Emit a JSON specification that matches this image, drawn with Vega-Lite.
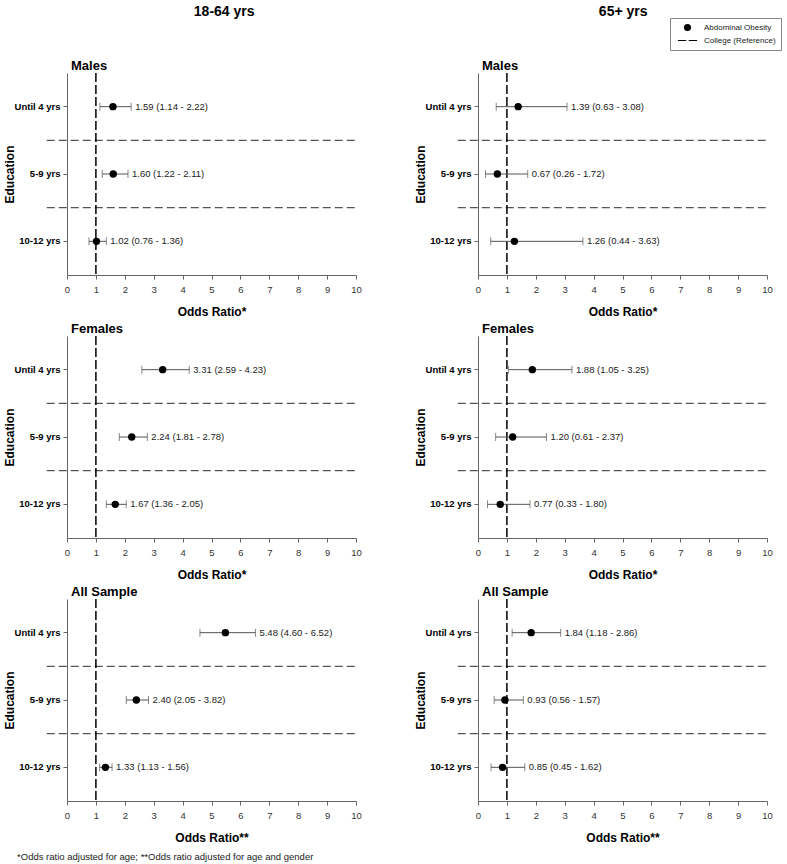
{
  "$schema": "https://vega.github.io/schema/vega-lite/v6.json",
  "padding": {"left": 3, "top": 5, "right": 4, "bottom": 4},
  "background": "white",
  "datasets": {
    "or": [
      {"age": "18-64 yrs", "group": "Males", "edu": "Until 4 yrs", "or": 1.59, "lo": 1.14, "hi": 2.22, "label": "1.59 (1.14 - 2.22)"},
      {"age": "18-64 yrs", "group": "Males", "edu": "5-9 yrs", "or": 1.60, "lo": 1.22, "hi": 2.11, "label": "1.60 (1.22 - 2.11)"},
      {"age": "18-64 yrs", "group": "Males", "edu": "10-12 yrs", "or": 1.02, "lo": 0.76, "hi": 1.36, "label": "1.02 (0.76 - 1.36)"},
      {"age": "18-64 yrs", "group": "Females", "edu": "Until 4 yrs", "or": 3.31, "lo": 2.59, "hi": 4.23, "label": "3.31 (2.59 - 4.23)"},
      {"age": "18-64 yrs", "group": "Females", "edu": "5-9 yrs", "or": 2.24, "lo": 1.81, "hi": 2.78, "label": "2.24 (1.81 - 2.78)"},
      {"age": "18-64 yrs", "group": "Females", "edu": "10-12 yrs", "or": 1.67, "lo": 1.36, "hi": 2.05, "label": "1.67 (1.36 - 2.05)"},
      {"age": "18-64 yrs", "group": "All Sample", "edu": "Until 4 yrs", "or": 5.48, "lo": 4.60, "hi": 6.52, "label": "5.48 (4.60 - 6.52)"},
      {"age": "18-64 yrs", "group": "All Sample", "edu": "5-9 yrs", "or": 2.40, "lo": 2.05, "hi": 2.82, "label": "2.40 (2.05 - 3.82)"},
      {"age": "18-64 yrs", "group": "All Sample", "edu": "10-12 yrs", "or": 1.33, "lo": 1.13, "hi": 1.56, "label": "1.33 (1.13 - 1.56)"},
      {"age": "65+ yrs", "group": "Males", "edu": "Until 4 yrs", "or": 1.39, "lo": 0.63, "hi": 3.08, "label": "1.39 (0.63 - 3.08)"},
      {"age": "65+ yrs", "group": "Males", "edu": "5-9 yrs", "or": 0.67, "lo": 0.26, "hi": 1.72, "label": "0.67 (0.26 - 1.72)"},
      {"age": "65+ yrs", "group": "Males", "edu": "10-12 yrs", "or": 1.26, "lo": 0.44, "hi": 3.63, "label": "1.26 (0.44 - 3.63)"},
      {"age": "65+ yrs", "group": "Females", "edu": "Until 4 yrs", "or": 1.88, "lo": 1.05, "hi": 3.25, "label": "1.88 (1.05 - 3.25)"},
      {"age": "65+ yrs", "group": "Females", "edu": "5-9 yrs", "or": 1.20, "lo": 0.61, "hi": 2.37, "label": "1.20 (0.61 - 2.37)"},
      {"age": "65+ yrs", "group": "Females", "edu": "10-12 yrs", "or": 0.77, "lo": 0.33, "hi": 1.80, "label": "0.77 (0.33 - 1.80)"},
      {"age": "65+ yrs", "group": "All Sample", "edu": "Until 4 yrs", "or": 1.84, "lo": 1.18, "hi": 2.86, "label": "1.84 (1.18 - 2.86)"},
      {"age": "65+ yrs", "group": "All Sample", "edu": "5-9 yrs", "or": 0.93, "lo": 0.56, "hi": 1.57, "label": "0.93 (0.56 - 1.57)"},
      {"age": "65+ yrs", "group": "All Sample", "edu": "10-12 yrs", "or": 0.85, "lo": 0.45, "hi": 1.62, "label": "0.85 (0.45 - 1.62)"}
    ]
  },
  "title": {"text": "*Odds ratio adjusted for age; **Odds ratio adjusted for age and gender", "orient": "bottom", "anchor": "start", "frame": "bounds", "fontSize": 9.5, "fontWeight": "normal", "color": "#222", "offset": 8, "dx": 14},
  "config": {
    "font": "Liberation Sans",
    "view": {"stroke": null},
    "title": {"fontSize": 13, "fontWeight": "bold", "anchor": "start", "frame": "group", "offset": -1, "dx": 4, "color": "black"},
    "axisX": {"values": [0,1,2,3,4,5,6,7,8,9,10], "tickSize": 4, "labelFontSize": 9.5, "labelColor": "#333", "domainColor": "#666", "tickColor": "#666", "grid": false, "titleFontSize": 12, "titleFontWeight": "bold", "titleColor": "black", "titlePadding": 13, "labelPadding": 5, "labelFlush": false},
    "axisY": {"labelFontWeight": "bold", "labelFontSize": 9.5, "labelColor": "black", "tickSize": 4, "labelPadding": 3, "titlePadding": -2, "titleFontSize": 12, "titleFontWeight": "bold", "titleColor": "black", "domainColor": "#666", "tickColor": "#666", "grid": false}
  },
  "resolve": {"scale": {"shape": "shared"}, "legend": {"shape": "shared"}},
  "spacing": 52,
  "hconcat": [
    {
      "title": {"text": "18-64 yrs", "fontSize": 14, "anchor": "middle", "frame": "bounds", "offset": 41, "dx": 42},
      "spacing": 5,
      "resolve": {"scale": {"shape": "shared"}, "legend": {"shape": "shared"}},
      "vconcat": [
        {
          "width": 289, "height": 202,
          "title": {"text": "Males"},
          "data": {"name": "or"},
          "transform": [{"filter": "datum.age === '18-64 yrs' && datum.group === 'Males'"}],
          "layer": [
            {"mark": {"type": "rule", "strokeDash": [8, 4], "color": "#555", "strokeWidth": 1.2}, "transform": [{"filter": "datum.edu !== 'Until 4 yrs'"}],
             "encoding": {"y": {"field": "edu", "type": "nominal", "bandPosition": 0, "scale": {"domain": ["Until 4 yrs", "5-9 yrs", "10-12 yrs"], "paddingInner": 0, "paddingOuter": 0}, "title": "Education"},
                          "x": {"datum": -0.7, "type": "quantitative", "scale": {"domain": [0, 10], "nice": false, "zero": false}, "title": "Odds Ratio*"}, "x2": {"datum": 10}}},
            {"mark": {"type": "rule", "strokeDash": [9, 3], "color": "black", "strokeWidth": 1.5}, "transform": [{"filter": "datum.edu === 'Until 4 yrs'"}],
             "encoding": {"x": {"datum": 1, "type": "quantitative", "scale": {"domain": [0, 10], "nice": false, "zero": false}, "title": "Odds Ratio*"}}},
            {"mark": {"type": "rule", "color": "#555", "strokeWidth": 1},
             "encoding": {"y": {"field": "edu", "type": "nominal", "scale": {"domain": ["Until 4 yrs", "5-9 yrs", "10-12 yrs"], "paddingInner": 0, "paddingOuter": 0}, "title": "Education"},
                          "x": {"field": "lo", "type": "quantitative", "scale": {"domain": [0, 10], "nice": false, "zero": false}, "title": "Odds Ratio*"}, "x2": {"field": "hi"}}},
            {"mark": {"type": "tick", "color": "#555", "thickness": 1, "size": 8},
             "encoding": {"y": {"field": "edu", "type": "nominal", "scale": {"domain": ["Until 4 yrs", "5-9 yrs", "10-12 yrs"], "paddingInner": 0, "paddingOuter": 0}, "title": "Education"},
                          "x": {"field": "lo", "type": "quantitative", "scale": {"domain": [0, 10], "nice": false, "zero": false}, "title": "Odds Ratio*"}}},
            {"mark": {"type": "tick", "color": "#555", "thickness": 1, "size": 8},
             "encoding": {"y": {"field": "edu", "type": "nominal", "scale": {"domain": ["Until 4 yrs", "5-9 yrs", "10-12 yrs"], "paddingInner": 0, "paddingOuter": 0}, "title": "Education"},
                          "x": {"field": "hi", "type": "quantitative", "scale": {"domain": [0, 10], "nice": false, "zero": false}, "title": "Odds Ratio*"}}},
            {"mark": {"type": "point", "filled": true, "color": "black", "size": 55, "opacity": 1, "shape": "circle"},
             "encoding": {"y": {"field": "edu", "type": "nominal", "scale": {"domain": ["Until 4 yrs", "5-9 yrs", "10-12 yrs"], "paddingInner": 0, "paddingOuter": 0}, "title": "Education"},
                          "x": {"field": "or", "type": "quantitative", "scale": {"domain": [0, 10], "nice": false, "zero": false}, "title": "Odds Ratio*"}}},
            {"mark": {"type": "text", "align": "left", "dx": 4, "fontSize": 9.5, "color": "#222"},
             "encoding": {"y": {"field": "edu", "type": "nominal", "scale": {"domain": ["Until 4 yrs", "5-9 yrs", "10-12 yrs"], "paddingInner": 0, "paddingOuter": 0}, "title": "Education"},
                          "x": {"field": "hi", "type": "quantitative", "scale": {"domain": [0, 10], "nice": false, "zero": false}, "title": "Odds Ratio*"}, "text": {"field": "label"}}}
          ]
        },
        {
          "width": 289, "height": 202,
          "title": {"text": "Females"},
          "data": {"name": "or"},
          "transform": [{"filter": "datum.age === '18-64 yrs' && datum.group === 'Females'"}],
          "layer": [
            {"mark": {"type": "rule", "strokeDash": [8, 4], "color": "#555", "strokeWidth": 1.2}, "transform": [{"filter": "datum.edu !== 'Until 4 yrs'"}],
             "encoding": {"y": {"field": "edu", "type": "nominal", "bandPosition": 0, "scale": {"domain": ["Until 4 yrs", "5-9 yrs", "10-12 yrs"], "paddingInner": 0, "paddingOuter": 0}, "title": "Education"},
                          "x": {"datum": -0.7, "type": "quantitative", "scale": {"domain": [0, 10], "nice": false, "zero": false}, "title": "Odds Ratio*"}, "x2": {"datum": 10}}},
            {"mark": {"type": "rule", "strokeDash": [9, 3], "color": "black", "strokeWidth": 1.5}, "transform": [{"filter": "datum.edu === 'Until 4 yrs'"}],
             "encoding": {"x": {"datum": 1, "type": "quantitative", "scale": {"domain": [0, 10], "nice": false, "zero": false}, "title": "Odds Ratio*"}}},
            {"mark": {"type": "rule", "color": "#555", "strokeWidth": 1},
             "encoding": {"y": {"field": "edu", "type": "nominal", "scale": {"domain": ["Until 4 yrs", "5-9 yrs", "10-12 yrs"], "paddingInner": 0, "paddingOuter": 0}, "title": "Education"},
                          "x": {"field": "lo", "type": "quantitative", "scale": {"domain": [0, 10], "nice": false, "zero": false}, "title": "Odds Ratio*"}, "x2": {"field": "hi"}}},
            {"mark": {"type": "tick", "color": "#555", "thickness": 1, "size": 8},
             "encoding": {"y": {"field": "edu", "type": "nominal", "scale": {"domain": ["Until 4 yrs", "5-9 yrs", "10-12 yrs"], "paddingInner": 0, "paddingOuter": 0}, "title": "Education"},
                          "x": {"field": "lo", "type": "quantitative", "scale": {"domain": [0, 10], "nice": false, "zero": false}, "title": "Odds Ratio*"}}},
            {"mark": {"type": "tick", "color": "#555", "thickness": 1, "size": 8},
             "encoding": {"y": {"field": "edu", "type": "nominal", "scale": {"domain": ["Until 4 yrs", "5-9 yrs", "10-12 yrs"], "paddingInner": 0, "paddingOuter": 0}, "title": "Education"},
                          "x": {"field": "hi", "type": "quantitative", "scale": {"domain": [0, 10], "nice": false, "zero": false}, "title": "Odds Ratio*"}}},
            {"mark": {"type": "point", "filled": true, "color": "black", "size": 55, "opacity": 1, "shape": "circle"},
             "encoding": {"y": {"field": "edu", "type": "nominal", "scale": {"domain": ["Until 4 yrs", "5-9 yrs", "10-12 yrs"], "paddingInner": 0, "paddingOuter": 0}, "title": "Education"},
                          "x": {"field": "or", "type": "quantitative", "scale": {"domain": [0, 10], "nice": false, "zero": false}, "title": "Odds Ratio*"}}},
            {"mark": {"type": "text", "align": "left", "dx": 4, "fontSize": 9.5, "color": "#222"},
             "encoding": {"y": {"field": "edu", "type": "nominal", "scale": {"domain": ["Until 4 yrs", "5-9 yrs", "10-12 yrs"], "paddingInner": 0, "paddingOuter": 0}, "title": "Education"},
                          "x": {"field": "hi", "type": "quantitative", "scale": {"domain": [0, 10], "nice": false, "zero": false}, "title": "Odds Ratio*"}, "text": {"field": "label"}}}
          ]
        },
        {
          "width": 289, "height": 202,
          "title": {"text": "All Sample"},
          "data": {"name": "or"},
          "transform": [{"filter": "datum.age === '18-64 yrs' && datum.group === 'All Sample'"}],
          "layer": [
            {"mark": {"type": "rule", "strokeDash": [8, 4], "color": "#555", "strokeWidth": 1.2}, "transform": [{"filter": "datum.edu !== 'Until 4 yrs'"}],
             "encoding": {"y": {"field": "edu", "type": "nominal", "bandPosition": 0, "scale": {"domain": ["Until 4 yrs", "5-9 yrs", "10-12 yrs"], "paddingInner": 0, "paddingOuter": 0}, "title": "Education"},
                          "x": {"datum": -0.7, "type": "quantitative", "scale": {"domain": [0, 10], "nice": false, "zero": false}, "title": "Odds Ratio**"}, "x2": {"datum": 10}}},
            {"mark": {"type": "rule", "strokeDash": [9, 3], "color": "black", "strokeWidth": 1.5}, "transform": [{"filter": "datum.edu === 'Until 4 yrs'"}],
             "encoding": {"x": {"datum": 1, "type": "quantitative", "scale": {"domain": [0, 10], "nice": false, "zero": false}, "title": "Odds Ratio**"}}},
            {"mark": {"type": "rule", "color": "#555", "strokeWidth": 1},
             "encoding": {"y": {"field": "edu", "type": "nominal", "scale": {"domain": ["Until 4 yrs", "5-9 yrs", "10-12 yrs"], "paddingInner": 0, "paddingOuter": 0}, "title": "Education"},
                          "x": {"field": "lo", "type": "quantitative", "scale": {"domain": [0, 10], "nice": false, "zero": false}, "title": "Odds Ratio**"}, "x2": {"field": "hi"}}},
            {"mark": {"type": "tick", "color": "#555", "thickness": 1, "size": 8},
             "encoding": {"y": {"field": "edu", "type": "nominal", "scale": {"domain": ["Until 4 yrs", "5-9 yrs", "10-12 yrs"], "paddingInner": 0, "paddingOuter": 0}, "title": "Education"},
                          "x": {"field": "lo", "type": "quantitative", "scale": {"domain": [0, 10], "nice": false, "zero": false}, "title": "Odds Ratio**"}}},
            {"mark": {"type": "tick", "color": "#555", "thickness": 1, "size": 8},
             "encoding": {"y": {"field": "edu", "type": "nominal", "scale": {"domain": ["Until 4 yrs", "5-9 yrs", "10-12 yrs"], "paddingInner": 0, "paddingOuter": 0}, "title": "Education"},
                          "x": {"field": "hi", "type": "quantitative", "scale": {"domain": [0, 10], "nice": false, "zero": false}, "title": "Odds Ratio**"}}},
            {"mark": {"type": "point", "filled": true, "color": "black", "size": 55, "opacity": 1, "shape": "circle"},
             "encoding": {"y": {"field": "edu", "type": "nominal", "scale": {"domain": ["Until 4 yrs", "5-9 yrs", "10-12 yrs"], "paddingInner": 0, "paddingOuter": 0}, "title": "Education"},
                          "x": {"field": "or", "type": "quantitative", "scale": {"domain": [0, 10], "nice": false, "zero": false}, "title": "Odds Ratio**"}}},
            {"mark": {"type": "text", "align": "left", "dx": 4, "fontSize": 9.5, "color": "#222"},
             "encoding": {"y": {"field": "edu", "type": "nominal", "scale": {"domain": ["Until 4 yrs", "5-9 yrs", "10-12 yrs"], "paddingInner": 0, "paddingOuter": 0}, "title": "Education"},
                          "x": {"field": "hi", "type": "quantitative", "scale": {"domain": [0, 10], "nice": false, "zero": false}, "title": "Odds Ratio**"}, "text": {"field": "label"}}}
          ]
        }
      ]
    },
    {
      "title": {"text": "65+ yrs", "fontSize": 14, "anchor": "middle", "frame": "bounds", "offset": 41, "dx": 30},
      "spacing": 5,
      "resolve": {"scale": {"shape": "shared"}, "legend": {"shape": "shared"}},
      "vconcat": [
        {
          "width": 289, "height": 202,
          "title": {"text": "Males"},
          "data": {"name": "or"},
          "transform": [{"filter": "datum.age === '65+ yrs' && datum.group === 'Males'"}],
          "layer": [
            {"mark": {"type": "rule", "strokeDash": [8, 4], "color": "#555", "strokeWidth": 1.2}, "transform": [{"filter": "datum.edu !== 'Until 4 yrs'"}],
             "encoding": {"y": {"field": "edu", "type": "nominal", "bandPosition": 0, "scale": {"domain": ["Until 4 yrs", "5-9 yrs", "10-12 yrs"], "paddingInner": 0, "paddingOuter": 0}, "title": "Education"},
                          "x": {"datum": -0.7, "type": "quantitative", "scale": {"domain": [0, 10], "nice": false, "zero": false}, "title": "Odds Ratio*"}, "x2": {"datum": 10}}},
            {"mark": {"type": "rule", "strokeDash": [9, 3], "color": "black", "strokeWidth": 1.5}, "transform": [{"filter": "datum.edu === 'Until 4 yrs'"}],
             "encoding": {"x": {"datum": 1, "type": "quantitative", "scale": {"domain": [0, 10], "nice": false, "zero": false}, "title": "Odds Ratio*"}}},
            {"mark": {"type": "rule", "color": "#555", "strokeWidth": 1},
             "encoding": {"y": {"field": "edu", "type": "nominal", "scale": {"domain": ["Until 4 yrs", "5-9 yrs", "10-12 yrs"], "paddingInner": 0, "paddingOuter": 0}, "title": "Education"},
                          "x": {"field": "lo", "type": "quantitative", "scale": {"domain": [0, 10], "nice": false, "zero": false}, "title": "Odds Ratio*"}, "x2": {"field": "hi"}}},
            {"mark": {"type": "tick", "color": "#555", "thickness": 1, "size": 8},
             "encoding": {"y": {"field": "edu", "type": "nominal", "scale": {"domain": ["Until 4 yrs", "5-9 yrs", "10-12 yrs"], "paddingInner": 0, "paddingOuter": 0}, "title": "Education"},
                          "x": {"field": "lo", "type": "quantitative", "scale": {"domain": [0, 10], "nice": false, "zero": false}, "title": "Odds Ratio*"}}},
            {"mark": {"type": "tick", "color": "#555", "thickness": 1, "size": 8},
             "encoding": {"y": {"field": "edu", "type": "nominal", "scale": {"domain": ["Until 4 yrs", "5-9 yrs", "10-12 yrs"], "paddingInner": 0, "paddingOuter": 0}, "title": "Education"},
                          "x": {"field": "hi", "type": "quantitative", "scale": {"domain": [0, 10], "nice": false, "zero": false}, "title": "Odds Ratio*"}}},
            {"mark": {"type": "point", "filled": true, "color": "black", "size": 55, "opacity": 1},
             "encoding": {"y": {"field": "edu", "type": "nominal", "scale": {"domain": ["Until 4 yrs", "5-9 yrs", "10-12 yrs"], "paddingInner": 0, "paddingOuter": 0}, "title": "Education"},
                          "x": {"field": "or", "type": "quantitative", "scale": {"domain": [0, 10], "nice": false, "zero": false}, "title": "Odds Ratio*"},
                          "shape": {"datum": "Abdominal Obesity", "type": "nominal",
                                    "scale": {"domain": ["Abdominal Obesity", "College (Reference)"], "range": ["circle", "M-2.7,-0.12L-0.35,-0.12L-0.35,0.12L-2.7,0.12Z M0.35,-0.12L2.7,-0.12L2.7,0.12L0.35,0.12Z"]},
                                    "legend": {"title": null, "orient": "none", "legendX": 603, "legendY": -55, "strokeColor": "#888", "fillColor": "white", "padding": 5, "symbolOffset": 8, "labelFontSize": 8, "labelColor": "#222", "symbolSize": 50, "labelOffset": 12, "rowPadding": 1,
                                               "encode": {"symbols": {"update": {"stroke": {"value": "black"}, "strokeWidth": {"value": 1}, "fill": {"value": "black"}, "opacity": {"value": 1}, "fillOpacity": {"value": 1}, "strokeOpacity": {"value": 1}}}}}}}},
            {"mark": {"type": "text", "align": "left", "dx": 4, "fontSize": 9.5, "color": "#222"},
             "encoding": {"y": {"field": "edu", "type": "nominal", "scale": {"domain": ["Until 4 yrs", "5-9 yrs", "10-12 yrs"], "paddingInner": 0, "paddingOuter": 0}, "title": "Education"},
                          "x": {"field": "hi", "type": "quantitative", "scale": {"domain": [0, 10], "nice": false, "zero": false}, "title": "Odds Ratio*"}, "text": {"field": "label"}}}
          ]
        },
        {
          "width": 289, "height": 202,
          "title": {"text": "Females"},
          "data": {"name": "or"},
          "transform": [{"filter": "datum.age === '65+ yrs' && datum.group === 'Females'"}],
          "layer": [
            {"mark": {"type": "rule", "strokeDash": [8, 4], "color": "#555", "strokeWidth": 1.2}, "transform": [{"filter": "datum.edu !== 'Until 4 yrs'"}],
             "encoding": {"y": {"field": "edu", "type": "nominal", "bandPosition": 0, "scale": {"domain": ["Until 4 yrs", "5-9 yrs", "10-12 yrs"], "paddingInner": 0, "paddingOuter": 0}, "title": "Education"},
                          "x": {"datum": -0.7, "type": "quantitative", "scale": {"domain": [0, 10], "nice": false, "zero": false}, "title": "Odds Ratio*"}, "x2": {"datum": 10}}},
            {"mark": {"type": "rule", "strokeDash": [9, 3], "color": "black", "strokeWidth": 1.5}, "transform": [{"filter": "datum.edu === 'Until 4 yrs'"}],
             "encoding": {"x": {"datum": 1, "type": "quantitative", "scale": {"domain": [0, 10], "nice": false, "zero": false}, "title": "Odds Ratio*"}}},
            {"mark": {"type": "rule", "color": "#555", "strokeWidth": 1},
             "encoding": {"y": {"field": "edu", "type": "nominal", "scale": {"domain": ["Until 4 yrs", "5-9 yrs", "10-12 yrs"], "paddingInner": 0, "paddingOuter": 0}, "title": "Education"},
                          "x": {"field": "lo", "type": "quantitative", "scale": {"domain": [0, 10], "nice": false, "zero": false}, "title": "Odds Ratio*"}, "x2": {"field": "hi"}}},
            {"mark": {"type": "tick", "color": "#555", "thickness": 1, "size": 8},
             "encoding": {"y": {"field": "edu", "type": "nominal", "scale": {"domain": ["Until 4 yrs", "5-9 yrs", "10-12 yrs"], "paddingInner": 0, "paddingOuter": 0}, "title": "Education"},
                          "x": {"field": "lo", "type": "quantitative", "scale": {"domain": [0, 10], "nice": false, "zero": false}, "title": "Odds Ratio*"}}},
            {"mark": {"type": "tick", "color": "#555", "thickness": 1, "size": 8},
             "encoding": {"y": {"field": "edu", "type": "nominal", "scale": {"domain": ["Until 4 yrs", "5-9 yrs", "10-12 yrs"], "paddingInner": 0, "paddingOuter": 0}, "title": "Education"},
                          "x": {"field": "hi", "type": "quantitative", "scale": {"domain": [0, 10], "nice": false, "zero": false}, "title": "Odds Ratio*"}}},
            {"mark": {"type": "point", "filled": true, "color": "black", "size": 55, "opacity": 1, "shape": "circle"},
             "encoding": {"y": {"field": "edu", "type": "nominal", "scale": {"domain": ["Until 4 yrs", "5-9 yrs", "10-12 yrs"], "paddingInner": 0, "paddingOuter": 0}, "title": "Education"},
                          "x": {"field": "or", "type": "quantitative", "scale": {"domain": [0, 10], "nice": false, "zero": false}, "title": "Odds Ratio*"}}},
            {"mark": {"type": "text", "align": "left", "dx": 4, "fontSize": 9.5, "color": "#222"},
             "encoding": {"y": {"field": "edu", "type": "nominal", "scale": {"domain": ["Until 4 yrs", "5-9 yrs", "10-12 yrs"], "paddingInner": 0, "paddingOuter": 0}, "title": "Education"},
                          "x": {"field": "hi", "type": "quantitative", "scale": {"domain": [0, 10], "nice": false, "zero": false}, "title": "Odds Ratio*"}, "text": {"field": "label"}}}
          ]
        },
        {
          "width": 289, "height": 202,
          "title": {"text": "All Sample"},
          "data": {"name": "or"},
          "transform": [{"filter": "datum.age === '65+ yrs' && datum.group === 'All Sample'"}],
          "layer": [
            {"mark": {"type": "rule", "strokeDash": [8, 4], "color": "#555", "strokeWidth": 1.2}, "transform": [{"filter": "datum.edu !== 'Until 4 yrs'"}],
             "encoding": {"y": {"field": "edu", "type": "nominal", "bandPosition": 0, "scale": {"domain": ["Until 4 yrs", "5-9 yrs", "10-12 yrs"], "paddingInner": 0, "paddingOuter": 0}, "title": "Education"},
                          "x": {"datum": -0.7, "type": "quantitative", "scale": {"domain": [0, 10], "nice": false, "zero": false}, "title": "Odds Ratio**"}, "x2": {"datum": 10}}},
            {"mark": {"type": "rule", "strokeDash": [9, 3], "color": "black", "strokeWidth": 1.5}, "transform": [{"filter": "datum.edu === 'Until 4 yrs'"}],
             "encoding": {"x": {"datum": 1, "type": "quantitative", "scale": {"domain": [0, 10], "nice": false, "zero": false}, "title": "Odds Ratio**"}}},
            {"mark": {"type": "rule", "color": "#555", "strokeWidth": 1},
             "encoding": {"y": {"field": "edu", "type": "nominal", "scale": {"domain": ["Until 4 yrs", "5-9 yrs", "10-12 yrs"], "paddingInner": 0, "paddingOuter": 0}, "title": "Education"},
                          "x": {"field": "lo", "type": "quantitative", "scale": {"domain": [0, 10], "nice": false, "zero": false}, "title": "Odds Ratio**"}, "x2": {"field": "hi"}}},
            {"mark": {"type": "tick", "color": "#555", "thickness": 1, "size": 8},
             "encoding": {"y": {"field": "edu", "type": "nominal", "scale": {"domain": ["Until 4 yrs", "5-9 yrs", "10-12 yrs"], "paddingInner": 0, "paddingOuter": 0}, "title": "Education"},
                          "x": {"field": "lo", "type": "quantitative", "scale": {"domain": [0, 10], "nice": false, "zero": false}, "title": "Odds Ratio**"}}},
            {"mark": {"type": "tick", "color": "#555", "thickness": 1, "size": 8},
             "encoding": {"y": {"field": "edu", "type": "nominal", "scale": {"domain": ["Until 4 yrs", "5-9 yrs", "10-12 yrs"], "paddingInner": 0, "paddingOuter": 0}, "title": "Education"},
                          "x": {"field": "hi", "type": "quantitative", "scale": {"domain": [0, 10], "nice": false, "zero": false}, "title": "Odds Ratio**"}}},
            {"mark": {"type": "point", "filled": true, "color": "black", "size": 55, "opacity": 1, "shape": "circle"},
             "encoding": {"y": {"field": "edu", "type": "nominal", "scale": {"domain": ["Until 4 yrs", "5-9 yrs", "10-12 yrs"], "paddingInner": 0, "paddingOuter": 0}, "title": "Education"},
                          "x": {"field": "or", "type": "quantitative", "scale": {"domain": [0, 10], "nice": false, "zero": false}, "title": "Odds Ratio**"}}},
            {"mark": {"type": "text", "align": "left", "dx": 4, "fontSize": 9.5, "color": "#222"},
             "encoding": {"y": {"field": "edu", "type": "nominal", "scale": {"domain": ["Until 4 yrs", "5-9 yrs", "10-12 yrs"], "paddingInner": 0, "paddingOuter": 0}, "title": "Education"},
                          "x": {"field": "hi", "type": "quantitative", "scale": {"domain": [0, 10], "nice": false, "zero": false}, "title": "Odds Ratio**"}, "text": {"field": "label"}}}
          ]
        }
      ]
    }
  ]
}
